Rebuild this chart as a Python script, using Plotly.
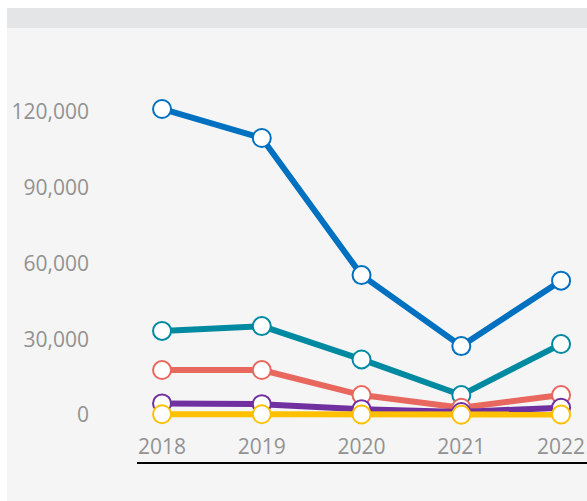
import plotly.graph_objects as go

years = [2018, 2019, 2020, 2021, 2022]

blue_vals = [121200, 109700, 55400, 27300, 53200]
teal_vals = [33300, 35200, 22000, 7900, 28100]
red_vals = [17800, 17800, 7900, 2900, 7900]
purple_vals = [4600, 4300, 2300, 1200, 2900]
yellow_vals = [300, 300, 200, 100, 200]

series = [
    ("blue", blue_vals, "#0070c0"),
    ("teal", teal_vals, "#008aa1"),
    ("red", red_vals, "#e8685f"),
    ("purple", purple_vals, "#7030a0"),
    ("yellow", yellow_vals, "#ffc000"),
]

fig = go.Figure()

for name, vals, color in series:
    fig.add_trace(
        go.Scatter(
            x=years, y=vals,
            name=name,
            mode="lines+markers",
            line=dict(color=color, width=6),
            marker=dict(size=18, color="white", line=dict(color=color, width=2)),
            cliponaxis=False,
        )
    )

# white page edges (left and top) and grey header band
fig.add_shape(type="rect", xref="paper", yref="paper",
              x0=-0.32, x1=1.05, y0=1.0461, y1=1.08,
              fillcolor="white", line_width=0, layer="below")
fig.add_shape(type="rect", xref="paper", yref="paper",
              x0=-0.32, x1=-0.2889, y0=-0.12, y1=1.08,
              fillcolor="white", line_width=0, layer="below")
fig.add_shape(type="rect", xref="paper", yref="paper",
              x0=-0.2889, x1=1.0, y0=1.0, y1=1.0461,
              fillcolor="#e4e5e6", line_width=0, layer="below")

tick_font = dict(family="Open Sans", size=21, color="#929292")

fig.update_xaxes(
    range=[2017.749, 2022.26],
    tickvals=years,
    ticktext=[str(y) for y in years],
    ticklabelposition="inside",
    ticklabelstandoff=5,
    showline=True, linecolor="black", linewidth=2,
    showgrid=False, zeroline=False,
    tickfont=tick_font,
    automargin=False,
)
fig.update_yaxes(
    range=[-18614, 153267],
    tickvals=[0, 30000, 60000, 90000, 120000],
    tickformat=",d",
    showgrid=False, zeroline=False, showline=False,
    ticklabelstandoff=47,
    tickfont=tick_font,
    automargin=False,
)

fig.update_layout(
    width=587, height=501,
    margin=dict(l=137, r=0, t=28, b=39),
    paper_bgcolor="#f5f5f5",
    plot_bgcolor="#f5f5f5",
    showlegend=False,
)

# figure fills the window exactly, so drop the page margin
fig.write_html(
    "out.html",
    config={"displayModeBar": False},
    post_script="document.body.style.margin='0';"
                "document.documentElement.style.overflow='hidden';",
)
